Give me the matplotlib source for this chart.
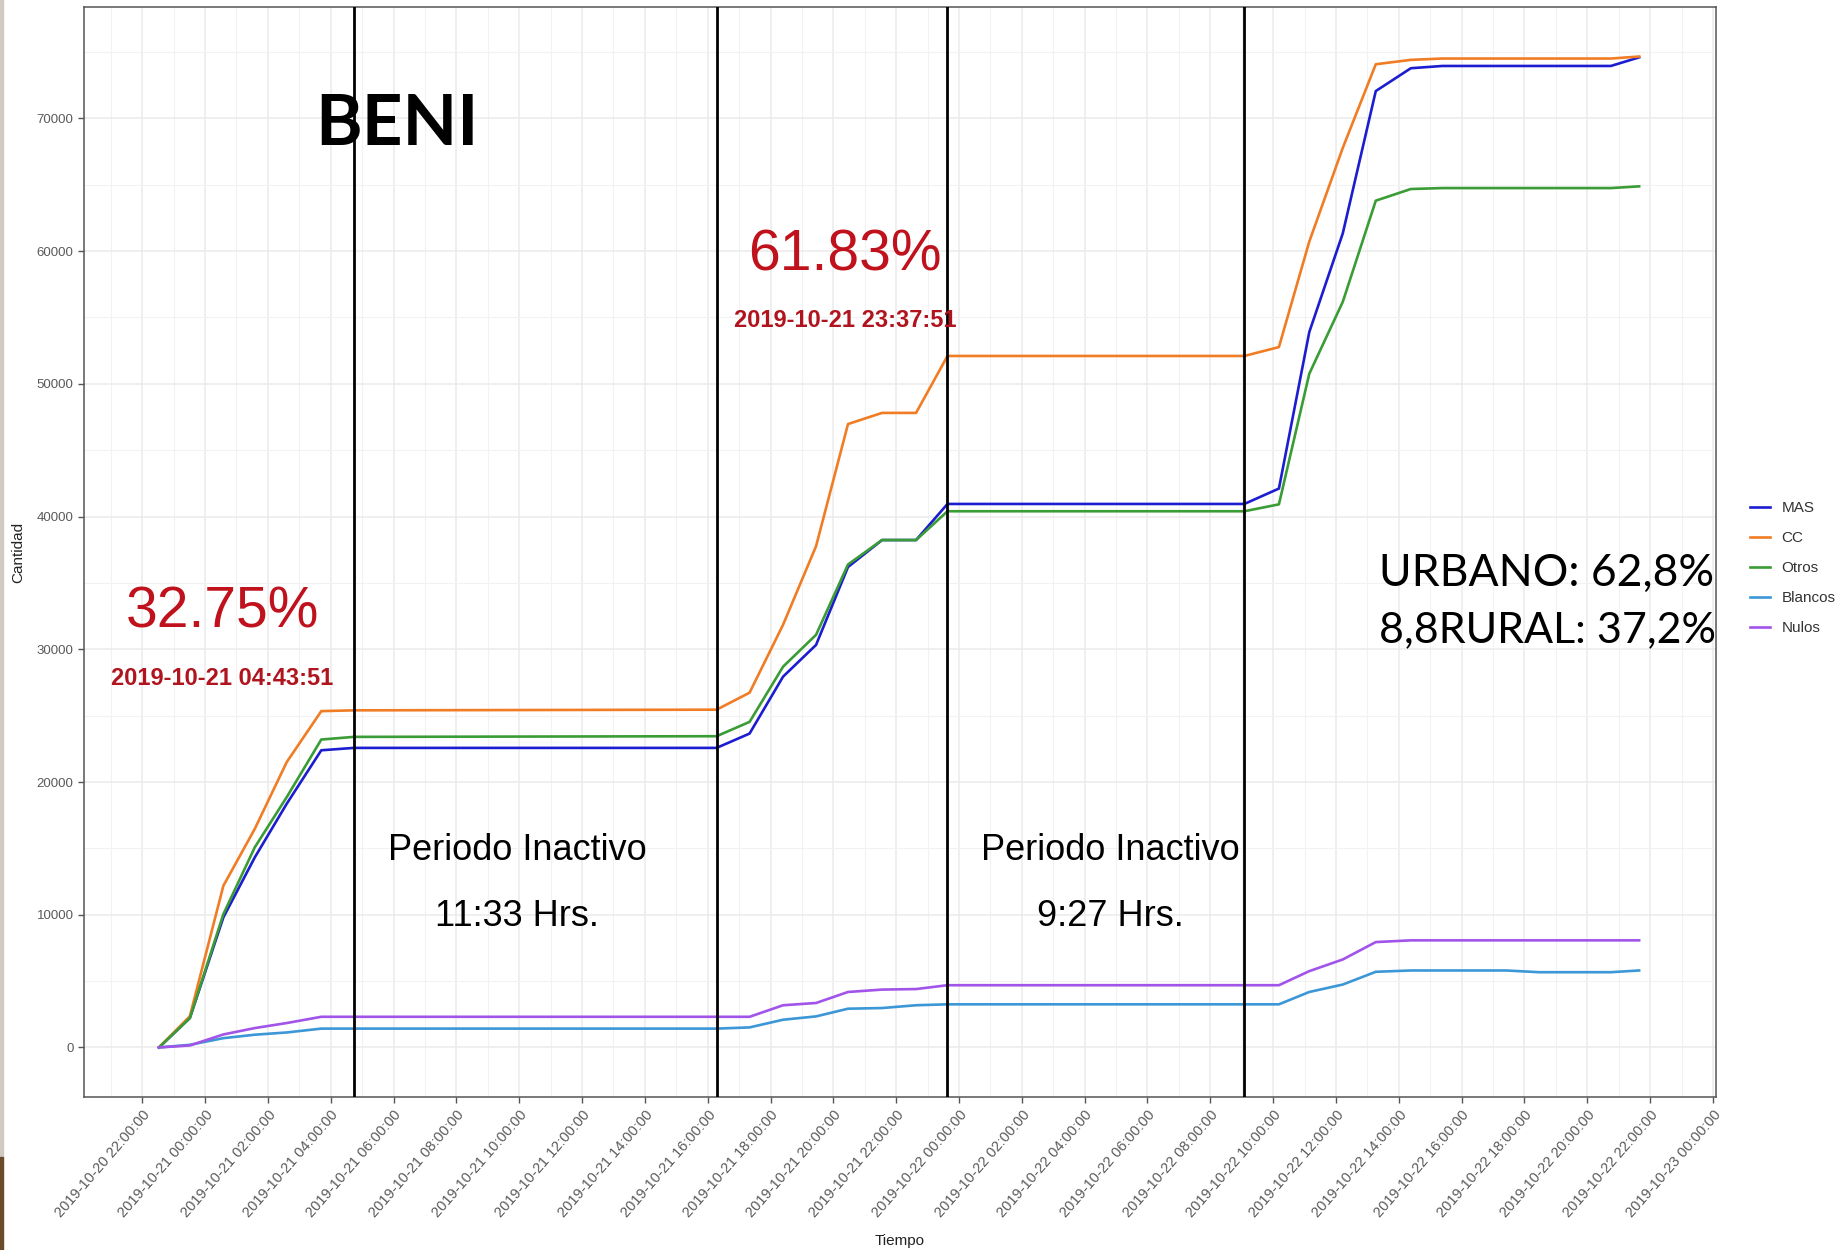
import matplotlib
matplotlib.use("Agg")
import matplotlib.pyplot as plt
import matplotlib.dates as md
from matplotlib.patches import Rectangle
import pandas

# Conteo BENI - cantidad acumulada de votos por partido
times = ["2019-10-20 22:32", "2019-10-20 23:31", "2019-10-21 00:35", "2019-10-21 01:35",
         "2019-10-21 02:36", "2019-10-21 03:42", "2019-10-21 04:44",
         "2019-10-21 16:17", "2019-10-21 17:20", "2019-10-21 18:24", "2019-10-21 19:27",
         "2019-10-21 20:28", "2019-10-21 21:33", "2019-10-21 22:38", "2019-10-21 23:38",
         "2019-10-22 09:05", "2019-10-22 10:11", "2019-10-22 11:09", "2019-10-22 12:13",
         "2019-10-22 13:16", "2019-10-22 14:23", "2019-10-22 15:23", "2019-10-22 16:23",
         "2019-10-22 17:25", "2019-10-22 18:28", "2019-10-22 19:30", "2019-10-22 20:45",
         "2019-10-22 21:39"]

mas = [0, 2216, 9800, 14320, 18360, 22390, 22570,
       22570, 23650, 27940, 30330, 36200, 38230, 38230, 40950,
       40950, 42110, 53900, 61340, 72060, 73780, 73950, 73950, 73950, 73950, 73950, 73950, 74600]
cc = [0, 2350, 12180, 16470, 21500, 25340, 25400,
      25450, 26730, 31850, 37770, 46970, 47810, 47810, 52100,
      52100, 52770, 60720, 67780, 74080, 74410, 74510, 74510, 74510, 74510, 74510, 74510, 74660]
otros = [0, 2216, 10040, 15080, 18860, 23200, 23400,
         23450, 24530, 28690, 31090, 36390, 38230, 38230, 40400,
         40400, 40920, 50760, 56180, 63800, 64680, 64750, 64750, 64750, 64750, 64750, 64750, 64880]
blancos = [0, 200, 700, 960, 1130, 1420, 1420,
           1420, 1510, 2090, 2340, 2920, 2970, 3180, 3250,
           3250, 3250, 4180, 4740, 5700, 5800, 5800, 5800, 5800, 5670, 5670, 5670, 5800]
nulos = [0, 150, 980, 1460, 1840, 2310, 2310,
         2310, 2310, 3180, 3350, 4180, 4360, 4400, 4690,
         4690, 4690, 5750, 6630, 7940, 8070, 8070, 8070, 8070, 8070, 8070, 8070, 8070]

series_names = ["MAS", "CC", "Otros", "Blancos", "Nulos"]
series_colors = ["#1c1cd0", "#f07c24", "#3a9c34", "#3b97d6", "#a254e8"]

# cortes (periodos inactivos)
cut_times = ["2019-10-21 04:43:51", "2019-10-21 16:16:51", "2019-10-21 23:37:51", "2019-10-22 09:04:51"]

t = pandas.to_datetime(times)

fig = plt.figure(figsize=(18.36, 12.5), dpi=100)
ax = fig.add_axes([0.0458, 0.1224, 0.8889, 0.872])

for k, (name, vals) in enumerate(zip(series_names, [mas, cc, otros, blancos, nulos])):
    ax.plot(t, vals, color=series_colors[k], lw=1.9, label=name, zorder=3 + k)

for c in pandas.to_datetime(cut_times, format="%Y-%m-%d %H:%M:%S"):
    ax.axvline(c, color="black", lw=2.0, zorder=10)

ax.set_xlim(pandas.Timestamp("2019-10-20 20:09"), pandas.Timestamp("2019-10-23 00:06"))
ax.margins(y=0.05)

# grid estilo theme_bw
ax.xaxis.set_major_locator(md.HourLocator(byhour=range(0, 24, 2)))
ax.xaxis.set_minor_locator(md.HourLocator())
ax.xaxis.set_major_formatter(md.DateFormatter("%Y-%m-%d %H:%M:%S"))
ax.set_yticks([0, 10000, 20000, 30000, 40000, 50000, 60000, 70000])
ax.set_yticks([5000, 15000, 25000, 35000, 45000, 55000, 65000, 75000], minor=True)
ax.grid(which="major", color="#ebebeb", lw=1.1, zorder=0)
ax.grid(which="minor", color="#f2f2f2", lw=0.8, zorder=0)
ax.set_axisbelow(True)
for s in ax.spines.values():
    s.set_color("#555555")
    s.set_linewidth(1.1)

ax.tick_params(which="major", length=4, width=1, color="#555555", labelcolor="#5a5a5a", labelsize=9.5)
ax.tick_params(axis="x", which="major", labelsize=10.5)
ax.tick_params(which="minor", length=0)
for lab in ax.get_xticklabels():
    lab.set_rotation(49)
    lab.set_ha("right")
    lab.set_va("top")
    lab.set_rotation_mode("anchor")
    lab.set_family("Liberation Sans")
for lab in ax.get_yticklabels():
    lab.set_family("Liberation Sans")

ax.set_xlabel("Tiempo", fontsize=11, family="Liberation Sans", color="#222222")
ax.set_ylabel("Cantidad", fontsize=11, family="Liberation Sans", color="#222222")
ax.xaxis.set_label_coords(0.5, -0.126)
ax.yaxis.set_label_coords(-0.036, 0.5)

handles, labels = ax.get_legend_handles_labels()
fig.legend(handles, labels, loc="center left", bbox_to_anchor=(1742 / 1836, 1 - 568 / 1250),
           frameon=False, prop={"family": "Liberation Sans", "size": 11}, labelcolor="#333333",
           handlelength=1.3, labelspacing=1.05, handletextpad=0.8, borderpad=0)

# anotaciones
red = "#c0121c"
ax.text(0.192, 0.8925, "BENI", transform=ax.transAxes, ha="center", va="center",
        fontsize=51, fontweight="bold", family="Lato", color="black", zorder=12)
ax.text(0.0846, 0.4446, "32.75%", transform=ax.transAxes, ha="center", va="center",
        fontsize=41, family="Liberation Sans", color=red, zorder=12)
ax.text(0.0846, 0.3843, "2019-10-21 04:43:51", transform=ax.transAxes, ha="center", va="center",
        fontsize=17, fontweight="bold", family="Liberation Sans", color="#b0141e", zorder=12)
ax.text(0.4663, 0.7718, "61.83%", transform=ax.transAxes, ha="center", va="center",
        fontsize=41, family="Liberation Sans", color=red, zorder=12)
ax.text(0.4663, 0.7126, "2019-10-21 23:37:51", transform=ax.transAxes, ha="center", va="center",
        fontsize=17, fontweight="bold", family="Liberation Sans", color="#b0141e", zorder=12)

ax.text(0.2654, 0.2260, "Periodo Inactivo", transform=ax.transAxes, ha="center", va="center",
        fontsize=26, family="Liberation Sans", color="black", zorder=12)
ax.text(0.2654, 0.1658, "11:33 Hrs.", transform=ax.transAxes, ha="center", va="center",
        fontsize=26, family="Liberation Sans", color="black", zorder=12)
ax.text(0.6291, 0.2260, "Periodo Inactivo", transform=ax.transAxes, ha="center", va="center",
        fontsize=26, family="Liberation Sans", color="black", zorder=12)
ax.text(0.6291, 0.1658, "9:27 Hrs.", transform=ax.transAxes, ha="center", va="center",
        fontsize=26, family="Liberation Sans", color="black", zorder=12)

ax.text(0.7934, 0.4800, "URBANO: 62,8%", transform=ax.transAxes, ha="left", va="center",
        fontsize=32, family="Lato", color="black", zorder=12)
ax.text(0.7934, 0.4284, "8,8RURAL: 37,2%", transform=ax.transAxes, ha="left", va="center",
        fontsize=31, family="Lato", color="black", zorder=12)

# borde de la captura
fig.patches.append(Rectangle((0, 93 / 1250), 2.5 / 1836, 1, transform=fig.transFigure,
                             color="#cfcbc3", zorder=0))
fig.patches.append(Rectangle((0, 0), 2.5 / 1836, 93 / 1250, transform=fig.transFigure,
                             color="#6b4a2a", zorder=0))

fig.savefig("out.png", dpi=100)
